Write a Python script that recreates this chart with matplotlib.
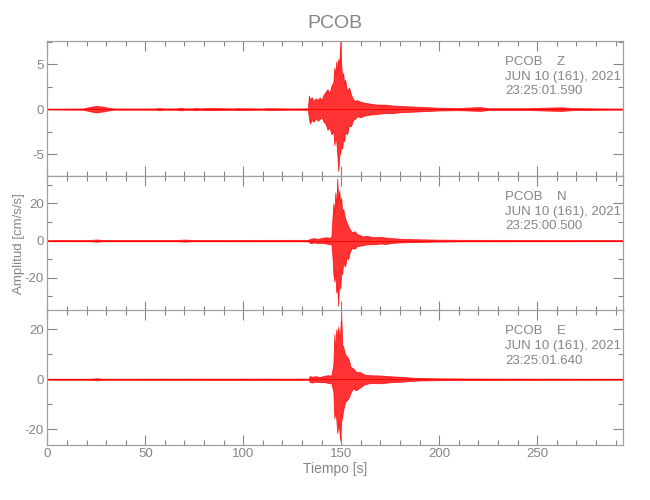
import numpy as np
import matplotlib
matplotlib.use("Agg")
import matplotlib.pyplot as plt
from matplotlib.ticker import MultipleLocator

plt.rcParams['font.family'] = ['Liberation Sans', 'DejaVu Sans']
plt.rcParams['axes.unicode_minus'] = False

# envolvente (tiempo en s, amplitud en cm/s/s)
z_t = [0, 18, 21, 23, 25, 27, 29, 31, 34, 55, 57, 60, 66, 68, 70, 74, 76, 78, 82, 95, 97, 110, 112, 125,
       133.0, 133.5, 134, 135, 136, 137, 138, 139, 140, 141, 142, 143, 144, 145, 146, 146.5, 147, 147.5,
       148, 148.5, 149, 149.6, 150, 150.5, 151, 151.5, 152, 153, 154, 155, 156, 157, 158, 160, 162,
       165, 168, 172, 176, 180, 185, 190, 195, 200, 210, 218, 221, 225, 245, 258, 262, 268, 280, 294]
z_up = [0.05, 0.07, 0.2, 0.3, 0.35, 0.3, 0.25, 0.15, 0.07, 0.07, 0.12, 0.07, 0.08, 0.15, 0.08, 0.08, 0.12, 0.08,
        0.12, 0.08, 0.1, 0.07, 0.1, 0.07,
        0.08, 1.5, 1.1, 1.3, 0.9, 1.2, 1.0, 1.3, 1.0, 1.6, 1.9, 2.2, 1.7, 2.6, 3.0, 4.6, 3.8, 5.3,
        4.4, 5.6, 4.8, 7.6, 5.0, 3.6, 4.0, 2.8, 3.3, 2.0, 2.4, 1.6, 1.1, 0.9, 1.0, 0.8, 0.7,
        0.6, 0.5, 0.5, 0.4, 0.35, 0.3, 0.25, 0.2, 0.15, 0.12, 0.2, 0.22, 0.1, 0.1, 0.18, 0.2, 0.12, 0.08, 0.06]
z_lo = [-0.05, -0.07, -0.2, -0.3, -0.38, -0.3, -0.25, -0.15, -0.07, -0.07, -0.12, -0.07, -0.08, -0.14, -0.08,
        -0.08, -0.12, -0.08, -0.12, -0.08, -0.1, -0.07, -0.1, -0.07,
        -0.08, -1.0, -1.6, -1.2, -1.4, -1.0, -1.3, -1.1, -0.9, -1.4, -1.6, -2.3, -2.0, -2.8, -2.4, -4.0, -3.2,
        -3.6, -5.0, -6.9, -5.2, -4.8, -4.0, -4.4, -3.2, -3.6, -2.6, -2.8, -1.8, -1.9, -1.2, -1.1, -0.8, -0.9,
        -0.7, -0.6, -0.55, -0.45, -0.45, -0.35, -0.3, -0.25, -0.2, -0.15, -0.12, -0.18, -0.2, -0.1, -0.1,
        -0.18, -0.2, -0.12, -0.08, -0.06]

n_t = [0, 22, 25, 28, 66, 70, 74, 133, 134.4, 136, 138, 140, 142, 144, 145, 145.5, 146, 146.5, 147, 147.5,
       148, 148.4, 149, 149.5, 150, 150.5, 151, 152, 152.7, 153.5, 154.4, 155.5, 157, 158, 159.5, 161,
       163, 166, 170, 173, 176, 180, 185, 190, 200, 215, 250, 294]
n_up = [0.3, 0.35, 0.6, 0.35, 0.35, 0.55, 0.35, 0.4, 1.0, 1.3, 0.9, 1.4, 1.8, 1.5, 2.2, 12, 20, 14, 26, 18,
        33.5, 22, 27, 20, 23, 15, 17, 12, 10, 8, 6, 4.5, 5, 3.5, 3, 2.2,
        2.6, 1.8, 2.0, 1.6, 1.3, 1.0, 0.8, 0.7, 0.5, 0.4, 0.35, 0.3]
n_lo = [-0.3, -0.35, -0.6, -0.35, -0.35, -0.55, -0.35, -0.4, -1.4, -1.0, -1.3, -1.2, -1.5, -2.0, -1.8, -8,
        -18, -22, -16, -28, -24, -35, -20, -26, -17, -18, -12, -14, -9, -10, -6, -4, -4.3, -3, -2.7, -2.5,
        -2.0, -2.0, -1.6, -1.8, -1.2, -1.0, -0.8, -0.7, -0.5, -0.4, -0.35, -0.3]

e_t = [0, 22, 25, 28, 133.5, 133.9, 135, 137, 139, 141, 143, 145, 146, 146.5, 147, 147.5, 148, 148.5, 149,
       149.5, 150, 150.5, 151, 152, 153, 154, 154.7, 156, 157.5, 159.7, 162, 165, 170, 175, 180, 185,
       190, 200, 230, 294]
e_up = [0.2, 0.22, 0.4, 0.22, 0.25, 1.3, 1.0, 1.2, 0.9, 1.3, 1.6, 1.5, 6, 18, 11, 20, 17, 21, 16,
        19, 26.4, 14, 13, 10, 9, 7.6, 5, 4.4, 3, 2.8, 1.8, 1.6, 1.5, 1.2, 1.0, 0.7,
        0.5, 0.35, 0.25, 0.2]
e_lo = [-0.2, -0.22, -0.4, -0.22, -0.25, -1.1, -1.3, -1.0, -1.2, -1.1, -1.4, -1.7, -5, -15.6, -13, -16,
        -21.6, -18, -20, -24.4, -17, -15, -12.4, -9, -8.4, -7, -5.5, -3.6, -4.4, -3.2, -2.0, -1.5, -1.6,
        -1.2, -1.0, -0.7, -0.5, -0.35, -0.25, -0.2]

canales = ['Z', 'N', 'E']
horas = ['23:25:01.590', '23:25:00.500', '23:25:01.640']
ylims = [(-7.4, 7.6), (-37.7, 34.9), (-26.3, 27.7)]
mayor = [5, 20, 20]
trazas = [(z_t, z_up, z_lo), (n_t, n_up, n_lo), (e_t, e_up, e_lo)]

gris = '#858585'
fig = plt.figure(figsize=(6.5, 5), dpi=100)
tops = [0.9186, 0.6486, 0.38]
alto = 0.2700

for i in range(3):
    ax = fig.add_axes([0.0728, tops[i] - alto, 0.8862, alto])
    t, up, lo = trazas[i]
    ax.fill_between(t, lo, up, color='red', alpha=0.8, linewidth=0.6, edgecolor='red')
    ax.plot([0, 294], [0, 0], color='red', lw=0.7)
    ax.set_xlim(0, 294)
    ax.set_ylim(*ylims[i])
    ax.xaxis.set_major_locator(MultipleLocator(50))
    ax.xaxis.set_minor_locator(MultipleLocator(10))
    ax.yaxis.set_major_locator(MultipleLocator(mayor[i]))
    ax.yaxis.set_minor_locator(MultipleLocator(mayor[i] / 2))
    ax.tick_params(which='both', direction='in', top=True, right=True, colors=gris,
                   labelsize=9.5, width=0.8, pad=2.5)
    ax.tick_params(which='major', length=7)
    ax.tick_params(which='minor', length=3.6)
    for s in ax.spines.values():
        s.set_color('#a0a0a0')
        s.set_linewidth(0.9)
    if i < 2:
        ax.tick_params(labelbottom=False)
    ax.text(0.795, 1 - 21 / 135, 'PCOB    ' + canales[i], transform=ax.transAxes,
            va='center', ha='left', fontsize=9.5, color=gris)
    ax.text(0.795, 1 - 36 / 135, 'JUN 10 (161), 2021', transform=ax.transAxes,
            va='center', ha='left', fontsize=9.5, color=gris)
    ax.text(0.795, 1 - 50.5 / 135, horas[i], transform=ax.transAxes,
            va='center', ha='left', fontsize=9.5, color=gris)
    if i == 1:
        ax.set_ylabel('Amplitud [cm/s/s]', color=gris, fontsize=9.5)
        ax.yaxis.set_label_coords(-0.038, 0.5)
    if i == 0:
        ax.set_title('PCOB', color=gris, fontsize=14, pad=9)
    if i == 2:
        ax.set_xlabel('Tiempo [s]', color=gris, fontsize=10, labelpad=1)

fig.savefig('out.png', dpi=100)
